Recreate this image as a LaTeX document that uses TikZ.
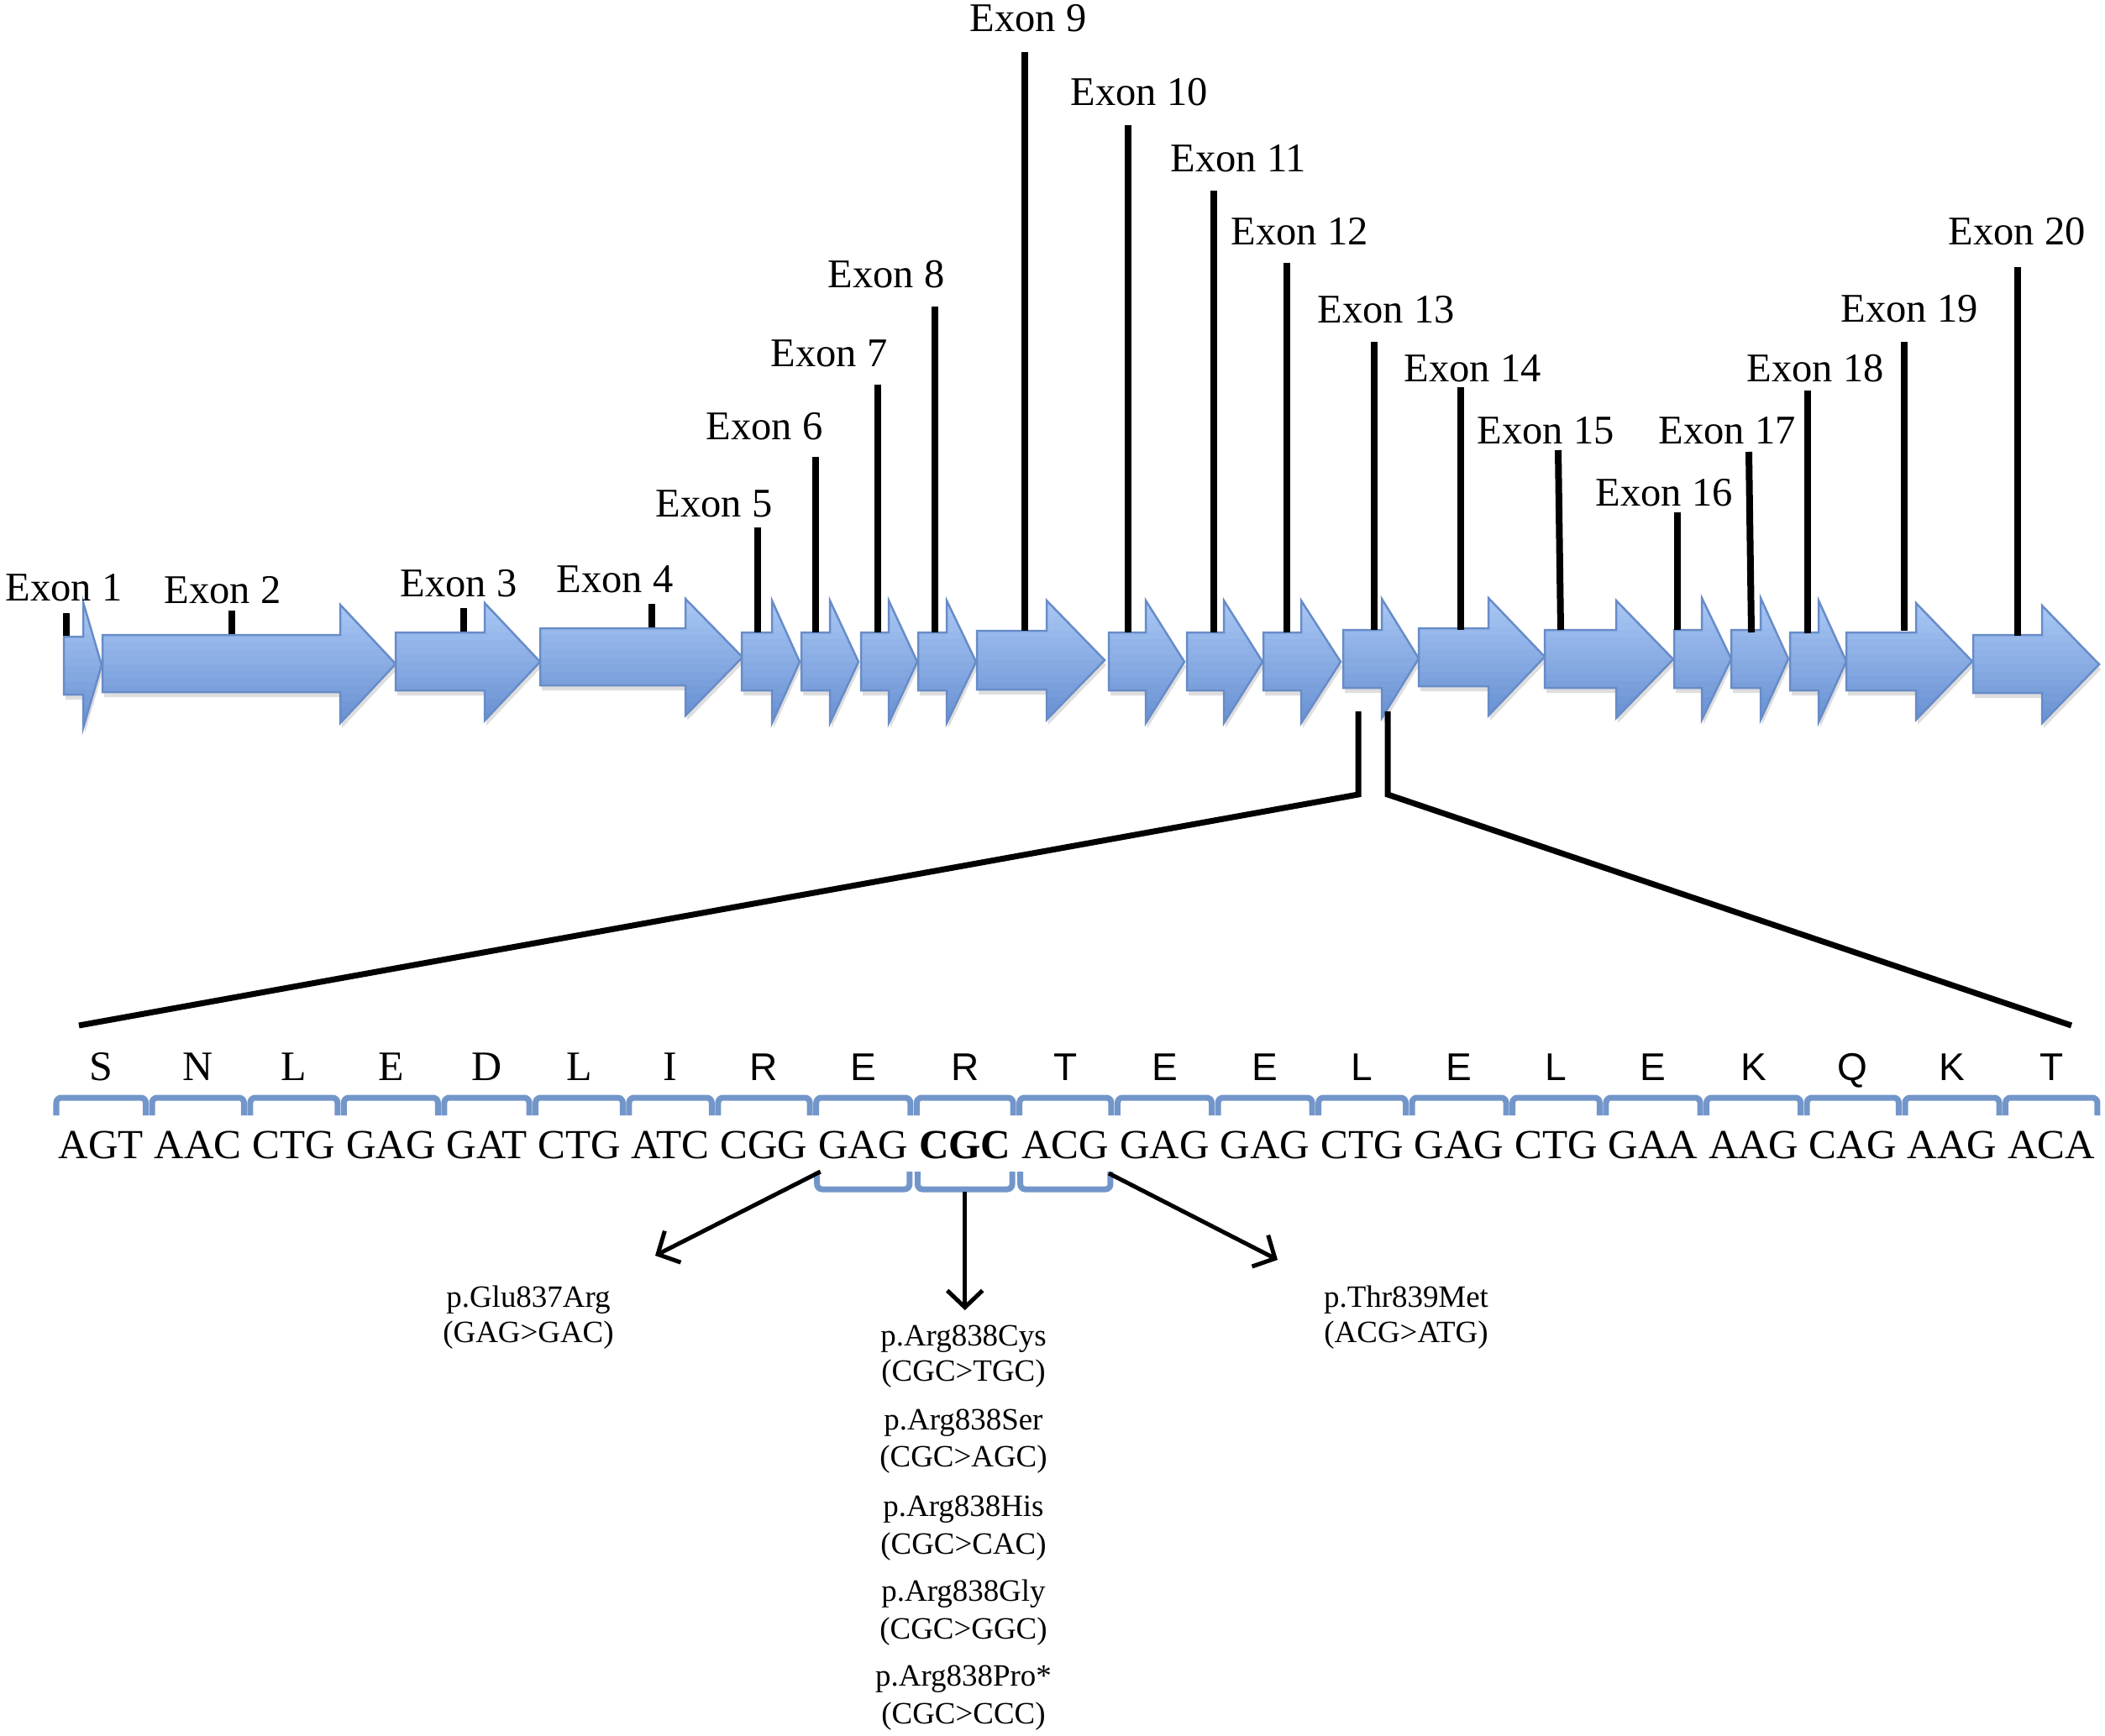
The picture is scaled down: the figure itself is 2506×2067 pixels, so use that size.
\documentclass[tikz,border=0pt]{standalone}
\usepackage{fontspec}
\setmainfont{Liberation Serif}
\newfontfamily\aasansfont{Liberation Sans}
\usetikzlibrary{arrows.meta,calc}
\definecolor{exfillT}{RGB}{168,198,244}
\definecolor{exfillB}{RGB}{106,146,211}
\definecolor{exborder}{RGB}{104,140,200}
\definecolor{brk}{RGB}{115,150,202}
\tikzset{
  exborderstyle/.style={draw=exborder, line width=0.025cm, line join=miter},
  exshadow/.style={fill=black, opacity=0.13},
  exline/.style={line width=0.08cm, black},
  zoomline/.style={line width=0.07cm, black, line join=miter},
  exlab/.style={font=\fontsize{13.8}{16}\selectfont, inner sep=0pt, anchor=base west},
  codon/.style={font=\fontsize{14}{16}\selectfont, inner sep=0pt, anchor=base west},
  aaser/.style={font=\fontsize{14.2}{16}\selectfont, inner sep=0pt, anchor=base},
  aasans/.style={font=\aasansfont\fontsize{13.1}{16}\selectfont, inner sep=0pt, anchor=base},
  bracket/.style={draw=brk, line width=0.07cm, rounded corners=0.06cm},
  mutarrow/.style={line width=0.05cm, black, -{Straight Barb[length=0.2cm, width=0.42cm]}},
  mutlab/.style={font=\fontsize{10.5}{12}\selectfont, inner sep=0pt, anchor=base},
}
\begin{document}
\begin{tikzpicture}[x=0.01cm, y=-0.01cm]
\useasboundingbox (0,0) rectangle (2506,2067);

% exon arrows: n / left / body top / body bottom / head base / tip / head top / head bottom
\foreach \n/\l/\bt/\bb/\hb/\tp/\ht/\hbo in {
  1/76/758/827/99/121/717/867,
  2/122/756/824/405/471/720/861,
  3/471/753/822/577/643/718/858,
  4/643/748/816/816/884/713/852,
  5/883/753/822/919/952/715/861,
  6/954/753/822/988/1022/715/861,
  7/1025/753/822/1058/1092/715/861,
  8/1093/753/822/1127/1162/715/861,
  9/1163/751/821/1246/1315/715/857,
  10/1320/753/822/1364/1410/715/861,
  11/1413/753/822/1457/1503/715/861,
  12/1504/753/822/1549/1596/715/861,
  13/1599/750/819/1645/1689/713/855,
  14/1689/748/817/1772/1839/712/852,
  15/1839/750/819/1924/1992/715/855,
  16/1993/750/819/2026/2061/712/857,
  17/2061/750/819/2096/2129/712/857,
  18/2131/753/822/2165/2198/715/860,
  19/2198/753/822/2281/2348/718/857,
  20/2349/756/825/2431/2499/721/861}{
  \pgfmathsetmacro\tipy{(\ht+\hbo)/2}
  \def\arrpath{(\l,\bt) -- (\hb,\bt) -- (\hb,\ht) -- (\tp,\tipy) -- (\hb,\hbo) -- (\hb,\bb) -- (\l,\bb) -- cycle}
  \fill[exshadow, shift={(2,6)}] \arrpath;
  \begin{scope}
    \clip \arrpath;
    \fill[white] \arrpath;
    \foreach \k in {0,...,15}{
      \pgfmathsetmacro\ya{\ht+(\hbo-\ht)*\k/16}
      \pgfmathsetmacro\yb{\ht+(\hbo-\ht)*(\k+1)/16+1}
      \pgfmathtruncatemacro\pc{100-\k*100/15}
      \fill[exfillT!\pc!exfillB] (\l,\ya) rectangle (\tp,\yb);
    }
  \end{scope}
  \draw[exborderstyle] \arrpath;
  \coordinate (arr\n) at (\l,\bt);
}

% exon marker lines: n / x top / y top / x bottom / y bottom
\foreach \n/\xt/\yt/\xb/\yb in {
  1/79/730/79/757, 2/276/727/276/755, 3/552/724/552/752, 4/776/719/776/747,
  5/902/628/902/753, 6/971/544/971/753, 7/1045/458/1045/753, 8/1113/365/1113/753,
  9/1220/62/1220/751, 10/1343/149/1343/753, 11/1445/227/1445/753, 12/1532/313/1532/753,
  13/1636/407/1636/750, 14/1739/461/1739/750, 15/1855/536/1858/750, 16/1997/610/1997/750,
  17/2082/538/2085/753, 18/2152/465/2152/754, 19/2267/407/2267/751, 20/2402/318/2402/757}{
  \coordinate (t\n) at (\xt,\yt);
  \coordinate (b\n) at (\xb,\yb);
  \draw[exline] (t\n) -- (b\n);
}

% exon labels
\foreach \n/\x/\y in {1/6/715, 2/195/718, 3/476/710, 4/662/705, 5/780/615, 6/840/523,
  7/917/436, 8/985/343, 9/1154/38, 10/1274/126, 11/1393/205, 12/1465/292, 13/1568/385,
  14/1671/455, 15/1758/528, 16/1899/602, 17/1974/528, 18/2079/455, 19/2191/384, 20/2319/292}{
  \node[exlab] (lab\n) at (\x,\y) {Exon \n};
}

% zoom lines
\coordinate (zl1) at (1617,847);
\coordinate (zl2) at (1617,946);
\coordinate (zl3) at (94,1221);
\coordinate (zr1) at (1652,847);
\coordinate (zr2) at (1652,946);
\coordinate (zr3) at (2466,1221);
\draw[zoomline] (zl1) -- (zl2) -- (zl3);
\draw[zoomline] (zr1) -- (zr2) -- (zr3);

% codons
\node[codon] (c1) at (69,1379) {AGT};
\foreach \i/\j/\t in {2/1/AAC, 3/2/CTG, 4/3/GAG, 5/4/GAT, 6/5/CTG, 7/6/ATC, 8/7/CGG,
  9/8/GAG, 10/9/{\textbf{CGC}}, 11/10/ACG, 12/11/GAG, 13/12/GAG, 14/13/CTG, 15/14/GAG,
  16/15/CTG, 17/16/GAA, 18/17/AAG, 19/18/CAG, 20/19/AAG, 21/20/ACA}{
  \node[codon] (c\i) at ([xshift=0.115cm]c\j.base east) {\t};
}

% upper brackets
\foreach \i in {1,...,21}{
  \draw[bracket] ($(c\i.base west)+(-2,-51)$) -- ++(0,-21) -| ($(c\i.base east)+(2,-51)$);
}

% amino acids
\coordinate (aaY) at (0,1286);
\foreach \i/\a/\f in {1/S/aaser, 2/N/aaser, 3/L/aaser, 4/E/aaser, 5/D/aaser, 6/L/aaser,
  7/I/aaser, 8/R/aasans, 9/E/aasans, 10/R/aasans, 11/T/aasans, 12/E/aasans, 13/E/aasans,
  14/L/aasans, 15/E/aasans, 16/L/aasans, 17/E/aasans, 18/K/aasans, 19/Q/aasans,
  20/K/aasans, 21/T/aasans}{
  \node[\f] (aa\i) at (c\i.base |- aaY) {\a};
}

% lower brackets
\foreach \i in {9,10,11}{
  \draw[bracket] ($(c\i.base west)+(-1,16)$) -- ++(0,21) -| ($(c\i.base east)+(1,16)$);
}

% mutation arrows
\coordinate (s1) at ($(c9.base west)+(3,16)$);
\coordinate (s2) at ($(c10.base)+(0,40)$);
\coordinate (s3) at ($(c11.base east)+(-1,18)$);
\coordinate (e1) at (780,1495);
\coordinate (yE2) at (0,1560);
\coordinate (e2) at (s2 |- yE2);
\coordinate (e3) at (1521,1500);
\draw[mutarrow] (s1) -- (e1);
\draw[mutarrow] (s2) -- (e2);
\draw[mutarrow] (s3) -- (e3);

% mutation labels
\node[mutlab] (m1a) at (629,1556) {p.Glu837Arg};
\node[mutlab] (m1b) at (629,1598) {(GAG>GAC)};
\node[mutlab] (m3a) at (1674,1556) {p.Thr839Met};
\node[mutlab] (m3b) at (1674,1598) {(ACG>ATG)};
\node[mutlab] (m2a) at (1147,1602) {p.Arg838Cys};
\node[mutlab] (m2b) at (1147,1644) {(CGC>TGC)};
\node[mutlab] (m2c) at (1147,1702) {p.Arg838Ser};
\node[mutlab] (m2d) at (1147,1746) {(CGC>AGC)};
\node[mutlab] (m2e) at (1147,1805) {p.Arg838His};
\node[mutlab] (m2f) at (1147,1850) {(CGC>CAC)};
\node[mutlab] (m2g) at (1147,1906) {p.Arg838Gly};
\node[mutlab] (m2h) at (1147,1951) {(CGC>GGC)};
\node[mutlab] (m2i) at (1147,2007) {p.Arg838Pro*};
\node[mutlab] (m2j) at (1147,2052) {(CGC>CCC)};
\end{tikzpicture}
\end{document}
